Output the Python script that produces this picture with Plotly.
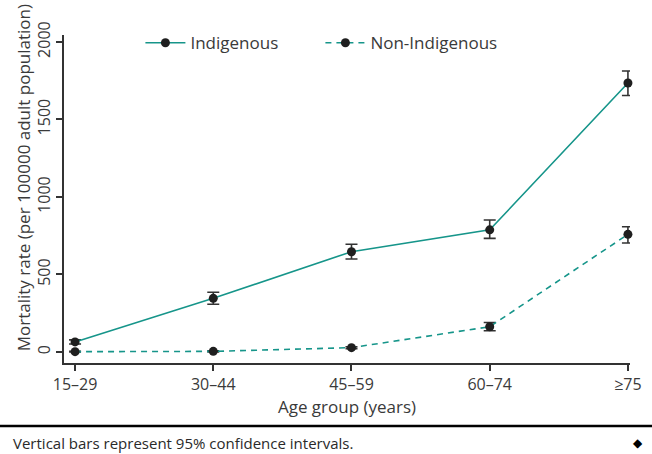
import plotly.graph_objects as go

# Age groups and mortality rates (per 100000 adult population)
age_groups = ["15–29", "30–44", "45–59", "60–74", "≥75"]

indigenous_rate = [65, 346, 647, 788, 1735]
indigenous_lower = [52, 308, 600, 733, 1655]
indigenous_upper = [78, 385, 695, 852, 1813]

non_indigenous_rate = [2, 4, 28, 163, 759]
non_indigenous_lower = [0, 1, 22, 137, 703]
non_indigenous_upper = [5, 8, 34, 190, 808]

y_ticks = [0, 500, 1000, 1500, 2000]

TEAL = "#16958a"
MARKER = "#1f1f1f"
TEXT = "#3a3a3a"
FONT = "Open Sans"


def err(rate, lo, hi):
    return dict(
        type="data",
        symmetric=False,
        array=[h - r for r, h in zip(rate, hi)],
        arrayminus=[r - l for r, l in zip(rate, lo)],
        color="#333333",
        thickness=1.6,
        width=6,
    )


fig = go.Figure()
fig.add_trace(go.Scatter(
    x=age_groups, y=indigenous_rate, name="Indigenous",
    mode="lines+markers",
    line=dict(color=TEAL, width=1.6),
    marker=dict(color=MARKER, size=9),
    error_y=err(indigenous_rate, indigenous_lower, indigenous_upper),
    cliponaxis=False,
))
fig.add_trace(go.Scatter(
    x=age_groups, y=non_indigenous_rate, name="Non-Indigenous",
    mode="lines+markers",
    line=dict(color=TEAL, width=1.6, dash="6px,5px"),
    marker=dict(color=MARKER, size=9),
    error_y=err(non_indigenous_rate, non_indigenous_lower, non_indigenous_upper),
    cliponaxis=False,
))

fig.update_layout(
    width=652, height=454,
    margin=dict(l=64, r=10, t=35, b=91),
    paper_bgcolor="white", plot_bgcolor="white",
    font=dict(family=FONT, size=16, color=TEXT),
    showlegend=True,
    legend=dict(
        orientation="h", x=0.135, xanchor="left", y=0.975, yanchor="middle",
        font=dict(family=FONT, size=17, color=TEXT),
        bgcolor="rgba(0,0,0,0)", itemwidth=40, tracegroupgap=0,
        entrywidth=125, entrywidthmode="pixels",
    ),
    xaxis=dict(
        type="category", range=[-0.08, 4.015],
        showline=True, linecolor="#333333", linewidth=1.5,
        ticks="outside", ticklen=6, tickcolor="#333333", tickwidth=1.5,
        showgrid=False, zeroline=False,
        tickfont=dict(family=FONT, size=16, color=TEXT),
        title=dict(text="Age group (years)", standoff=7,
                   font=dict(family=FONT, size=17, color=TEXT)),
    ),
    yaxis=dict(
        range=[-71, 2045],
        tickvals=y_ticks, ticktext=[str(v) for v in y_ticks],
        tickangle=-90,
        showline=True, linecolor="#333333", linewidth=1.5,
        ticks="outside", ticklen=6, tickcolor="#333333", tickwidth=1.5,
        showgrid=False, zeroline=False,
        tickfont=dict(family=FONT, size=16, color=TEXT),
    ),
    annotations=[
        dict(text="Mortality rate (per 100000 adult population)",
             textangle=-90, xref="paper", yref="paper",
             x=-0.072, y=0.564, xanchor="center", yanchor="middle",
             showarrow=False, font=dict(family=FONT, size=17, color=TEXT)),
        dict(text="Vertical bars represent 95% confidence intervals.",
             xref="paper", yref="paper", x=-0.094, y=-0.244,
             xanchor="left", yanchor="middle", showarrow=False,
             font=dict(family=FONT, size=15, color="#2a2a2a")),
        dict(text="◆", xref="paper", yref="paper", x=1.014, y=-0.244,
             xanchor="center", yanchor="middle", showarrow=False,
             font=dict(family="DejaVu Sans", size=12, color="black")),
    ],
    shapes=[
        dict(type="line", xref="paper", yref="paper",
             x0=-0.12, x1=1.04, y0=-0.192, y1=-0.192,
             line=dict(color="black", width=2.5)),
    ],
)

fig.write_html("out.html")
